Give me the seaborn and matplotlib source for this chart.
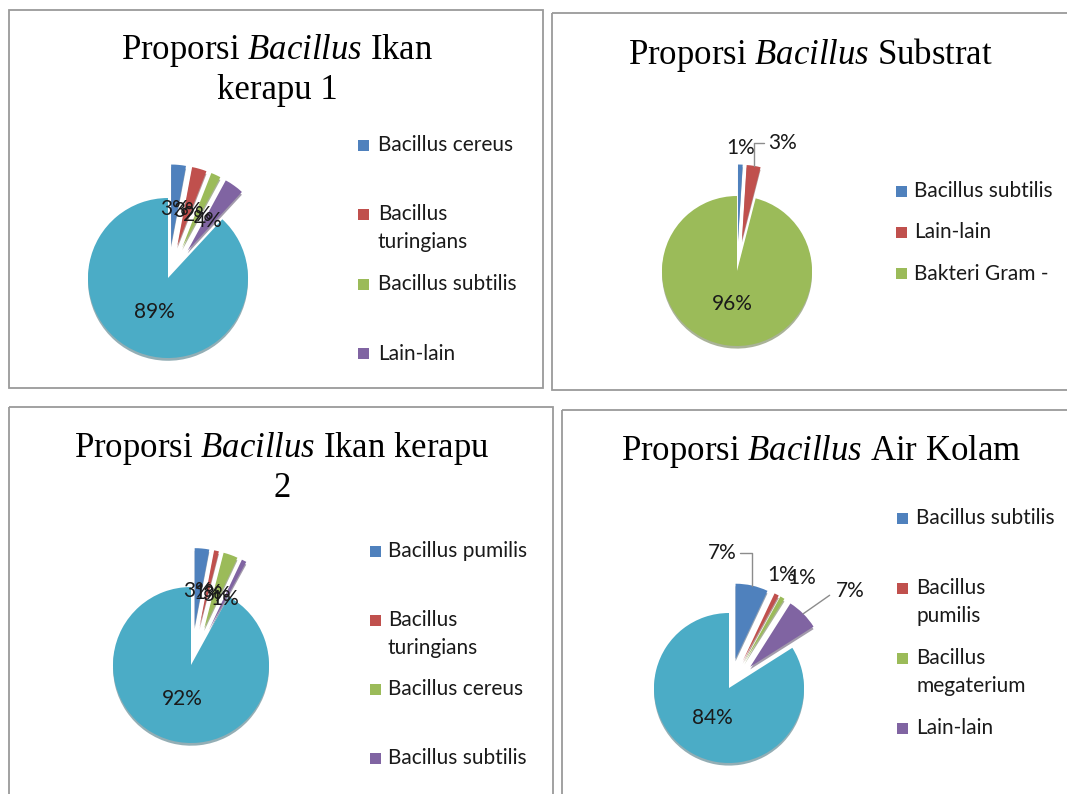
"""
Four exploded pie charts: proportion of Bacillus in grouper fish, substrate
and pond water samples.
"""

import matplotlib.pyplot as plt
import seaborn as sns
import numpy as np
from matplotlib.patches import Rectangle

sns.set_style("white")
plt.rcParams['font.family'] = ['Lato', 'DejaVu Sans']
plt.rcParams['mathtext.fontset'] = 'custom'
plt.rcParams['mathtext.rm'] = 'Liberation Serif'
plt.rcParams['mathtext.it'] = 'Liberation Serif:italic'

#
#  Data (percent)
#

ikan1_labels = ["Bacillus cereus", "Bacillus\nturingians", "Bacillus subtilis", "Lain-lain"]
ikan1_values = [3, 3, 2, 4, 89]

substrat_labels = ["Bacillus subtilis", "Lain-lain", "Bakteri Gram -"]
substrat_values = [1, 3, 96]

ikan2_labels = ["Bacillus pumilis", "Bacillus\nturingians", "Bacillus cereus", "Bacillus subtilis"]
ikan2_values = [3, 1, 3, 1, 92]

kolam_labels = ["Bacillus subtilis", "Bacillus\npumilis", "Bacillus\nmegaterium", "Lain-lain"]
kolam_values = [7, 1, 1, 7, 84]

titles = [r"Proporsi $\mathit{Bacillus}$ Ikan" + "\nkerapu 1",
          r"Proporsi $\mathit{Bacillus}$ Substrat",
          r"Proporsi $\mathit{Bacillus}$ Ikan kerapu" + "\n2",
          r"Proporsi $\mathit{Bacillus}$ Air Kolam"]

# Excel 2007 default series colours
colors = sns.color_palette(["#4F81BD", "#C0504D", "#9BBB59", "#8064A2", "#4BACC6"])

#
#  Layout, all in figure pixels (y measured from the top)
#

W, H = 1067, 794
fig = plt.figure(figsize=(W / 100, H / 100), dpi=100)

over = fig.add_axes([0, 0, 1, 1])
over.set_xlim(0, W)
over.set_ylim(H, 0)
over.axis('off')
over.set_zorder(5)

panels = [
    dict(values=ikan1_values, labels=ikan1_labels, title=titles[0], box=(9, 10, 543, 388),
         title_xy=(277, 32), center=(168, 278), r=80, explode=0.42,
         leg=(358, 378, 145, 69.5), pct="inside"),
    dict(values=substrat_values, labels=substrat_labels, title=titles[1], box=(552, 13, 1090, 390),
         title_xy=(810, 36), center=(737, 271), r=75, explode=0.42,
         leg=(896, 914, 191, 41.3),
         pct=[(0.5, 12, None), (20.5, 16.4, 'down')]),
    dict(values=ikan2_values, labels=ikan2_labels, title=titles[2], box=(9, 407, 553, 820),
         title_xy=(282, 430), center=(191, 665), r=78, explode=0.5,
         leg=(370, 388, 551, 69.0), pct="inside"),
    dict(values=kolam_values, labels=kolam_labels, title=titles[3], box=(562, 410, 1090, 820),
         title_xy=(821, 433), center=(729, 688), r=75, explode=0.4,
         leg=(897, 916, 518, 70.0),
         pct=[(-21, 23.4, 'down_r'), (3.9, 14, None), (14, 14, None), (33.7, 16.4, 'diag')]),
]

lead_styles = {
    'down': dict(relpos=(0, 0.5), shrinkA=0, connectionstyle='angle,angleA=0,angleB=90,rad=0'),
    'down_r': dict(relpos=(1, 0.5), shrinkA=0, connectionstyle='angle,angleA=0,angleB=90,rad=0'),
    'diag': dict(relpos=(0, 0.3), shrinkA=2, connectionstyle='angle,angleA=0,angleB=35,rad=0'),
}

for p in panels:
    # panel frame
    x0, y0, x1, y1 = p['box']
    over.add_patch(Rectangle((x0, y0), x1 - x0, y1 - y0, fill=False,
                             edgecolor='#9A9A9A', linewidth=1.3, clip_on=False))

    # title
    tx, ty = p['title_xy']
    over.text(tx, ty, p['title'], ha='center', va='top', fontsize=25,
              family='Liberation Serif', linespacing=1.2, color='black')

    # legend entries
    mx, lx, ly, step = p['leg']
    for i, lab in enumerate(p['labels']):
        yy = ly + i * step
        over.add_patch(Rectangle((mx, yy - 5.5), 11, 11, facecolor=colors[i],
                                 edgecolor='none'))
        for k, line in enumerate(lab.split('\n')):
            over.text(lx, yy + k * 28, line, ha='left', va='center',
                      fontsize=15, color='#1A1A1A')

    # the pie itself
    cx, cy = p['center']
    r = p['r']
    half = 150
    ax = fig.add_axes([(cx - half) / W, 1 - (cy + half) / H, 2 * half / W, 2 * half / H])
    vals = p['values']
    n = len(vals)
    explode = [p['explode']] * (n - 1) + [0]
    wedges, _ = ax.pie(vals, colors=colors[:n], explode=explode, startangle=90,
                       counterclock=False, wedgeprops=dict(linewidth=0),
                       shadow=dict(ox=0.0, oy=-0.025, shade=0.45, alpha=0.5))
    lim = half / r
    ax.set_xlim(-lim, lim)
    ax.set_ylim(-lim, lim)
    ax.set_aspect('equal', adjustable='box')
    ax.axis('off')

    for i, (w, v) in enumerate(zip(wedges, vals)):
        mid = np.deg2rad((w.theta1 + w.theta2) / 2)
        wc = np.array(w.center)
        direc = np.array([np.cos(mid), np.sin(mid)])
        txt = f"{v}%"
        if p['pct'] == "inside" or i == n - 1:
            pos = wc + 0.45 * direc
            ax.text(pos[0], pos[1], txt, ha='center', va='center',
                    fontsize=15, color='#1A1A1A', zorder=6)
        else:
            dx, dy, lead = p['pct'][i]
            kw = {}
            if lead:
                kw['arrowprops'] = dict(arrowstyle='-', color='#8C8C8C', lw=1,
                                        shrinkB=0, **lead_styles[lead])
            ax.annotate(txt, xy=wc + direc, xytext=(dx, dy), textcoords='offset points',
                        ha='center', va='center', fontsize=15, color='#1A1A1A',
                        annotation_clip=False, **kw)

fig.savefig('out.png', dpi=100)
